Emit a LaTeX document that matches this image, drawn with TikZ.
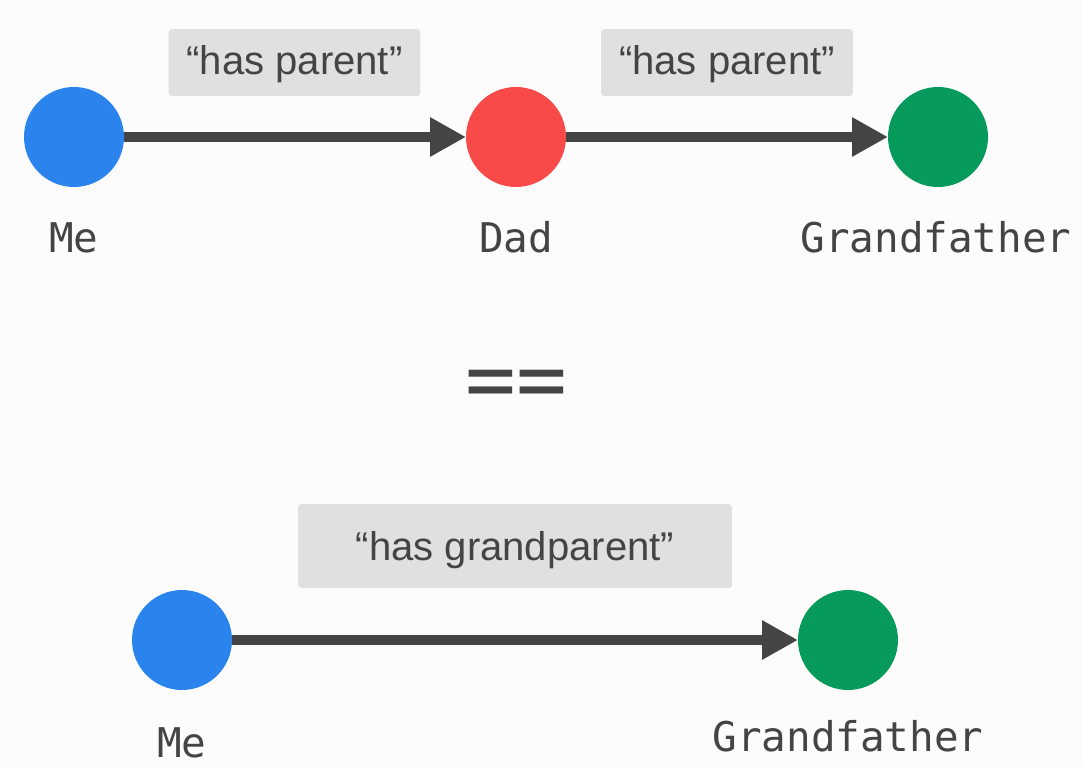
\documentclass[tikz,border=0pt]{standalone}
\usepackage{fontspec}
\setmainfont{Liberation Sans}
\newfontfamily\labelmono{DejaVu Sans Mono}
\usetikzlibrary{arrows.meta}
\definecolor{meblue}{HTML}{2B84EE}
\definecolor{dadred}{HTML}{F94A4A}
\definecolor{grandgreen}{HTML}{079A5D}
\definecolor{inkgray}{HTML}{444444}
\definecolor{tagfill}{HTML}{E0E0E0}
\definecolor{paper}{HTML}{FCFCFC}

\begin{document}
\begin{tikzpicture}[x=0.02cm, y=-0.02cm,
		person/.style={shape=circle, inner sep=0pt, outer sep=0pt, minimum size=2cm},
		who/.style={anchor=base, inner sep=0pt, text=inkgray, font=\labelmono\fontsize{23.3}{28}\selectfont},
		tag/.style={fill=tagfill, rounded corners=2pt, inner sep=0pt, text=inkgray, font=\fontsize{22.8}{27}\selectfont, text height=0.57cm, text depth=0.07cm},
		link/.style={line width=0.185cm, draw=inkgray, -{Triangle[length=0.72cm, width=0.74cm]}}]
			\fill[paper] (0,0) rectangle (1082,767);
			\useasboundingbox (0,0) rectangle (1082,767);
			\coordinate (me1) at (74,137);
			\coordinate (dad1) at (516,137);
			\coordinate (grand1) at (938,137);
			\coordinate (me2) at (182,640);
			\coordinate (grand2) at (848,640);
			\draw node (me) at (me1) [person, fill=meblue] {}
				node (dad) at (dad1) [person, fill=dadred] {}
				node (grand) at (grand1) [person, fill=grandgreen] {}
				node (meb) at (me2) [person, fill=meblue] {}
				node (grandb) at (grand2) [person, fill=grandgreen] {};
			\draw node (melabel) at (74,252) [who] {Me}
				node (dadlabel) at (516,252) [who] {Dad}
				node (grandlabel) at (936,252) [who] {Grandfather}
				node (meblabel) at (182,757) [who] {Me}
				node (grandblabel) at (848,751) [who] {Grandfather};
			\draw node (tag1) at (294.5,62.5) [tag, minimum width=5.04cm, minimum height=1.34cm] {“has parent”}
				node (tag2) at (727,62.5) [tag, minimum width=5.04cm, minimum height=1.34cm] {“has parent”}
				node (tag3) at (515,546) [tag, minimum width=8.68cm, minimum height=1.68cm, text height=0.6cm, text depth=0.04cm] {“has grandparent”};
			\draw node (equal) at (516,389) [inner sep=0pt, text=inkgray, font=\labelmono\fontsize{48}{50}\selectfont] {==};
			\draw[link] (me) -- (dad);
			\draw[link] (dad) -- (grand);
			\draw[link] (meb) -- (grandb);
		\end{tikzpicture}
\end{document}
